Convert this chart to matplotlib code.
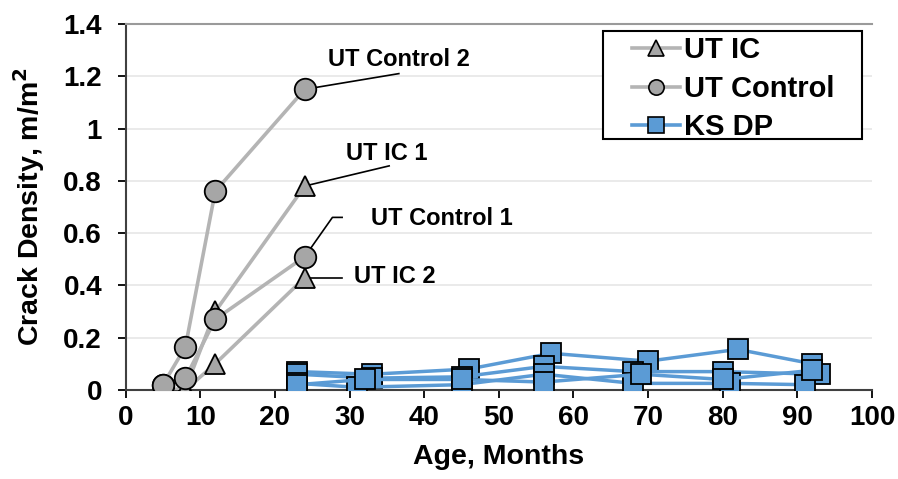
import matplotlib
matplotlib.use("Agg")
import matplotlib.pyplot as plt
from matplotlib.lines import Line2D
from matplotlib.patches import Rectangle

plt.rcParams["font.family"] = ["Liberation Sans", "DejaVu Sans"]
plt.rcParams["font.weight"] = "bold"

# ---------------------------------------------------
# Data
# ---------------------------------------------------
ut_x = [5, 8, 12, 24]
ut_ic_1 = [0.0, 0.005, 0.30, 0.78]
ut_ic_2 = [0.0, 0.0, 0.10, 0.43]
ut_control_1 = [0.02, 0.045, 0.27, 0.51]
ut_control_2 = [0.02, 0.165, 0.76, 1.15]

ks_x_1 = [23, 33, 46, 57, 70, 82, 92]
ks_y_1 = [0.07, 0.06, 0.08, 0.14, 0.11, 0.155, 0.10]
ks_x_2 = [23, 33, 45, 56, 68, 80, 93]
ks_y_2 = [0.06, 0.045, 0.05, 0.09, 0.07, 0.07, 0.06]
ks_x_3 = [23, 31, 45, 56, 68, 81, 91]
ks_y_3 = [0.025, 0.01, 0.02, 0.06, 0.025, 0.025, 0.02]
ks_x_4 = [23, 32, 45, 56, 69, 80, 92]
ks_y_4 = [0.02, 0.04, 0.04, 0.03, 0.06, 0.04, 0.075]

x_ticks = list(range(0, 101, 10))
y_ticks = [0, 0.2, 0.4, 0.6, 0.8, 1.0, 1.2, 1.4]

gray_line = "#b4b4b4"
gray_face = "#a6a6a6"
blue = "#5b9bd5"

# ---------------------------------------------------
# Figure
# ---------------------------------------------------
fig = plt.figure(figsize=(8.98, 4.79), dpi=100)
ax = fig.add_axes([0.140, 0.186, 0.831, 0.764])

for y in y_ticks[1:]:
    ax.axhline(y, color="#e6e6e6", lw=1.2, zorder=0)

for ys in [ut_ic_1, ut_ic_2]:
    ax.plot(ut_x, ys, color=gray_line, lw=2.6, marker="^", ms=14,
            mfc=gray_face, mec="black", mew=1.3, zorder=3)
for ys in [ut_control_1, ut_control_2]:
    ax.plot(ut_x, ys, color=gray_line, lw=2.6, marker="o", ms=15.5,
            mfc=gray_face, mec="black", mew=1.3, zorder=3)

for xs, ys in [(ks_x_1, ks_y_1), (ks_x_2, ks_y_2), (ks_x_3, ks_y_3), (ks_x_4, ks_y_4)]:
    ax.plot(xs, ys, color=blue, lw=2.5, marker="s", ms=14,
            mfc=blue, mec="black", mew=1.3, zorder=4)

# ---------------------------------------------------
# Callouts
# ---------------------------------------------------
lk = dict(color="black", lw=1.2, zorder=2)
fs_call = 17
ax.plot([ut_x[-1], 36.6], [ut_control_2[-1], 1.21], **lk)
ax.text(36.6, 1.265, "UT Control 2", ha="center", va="center", fontsize=fs_call)

ax.plot([ut_x[-1], 35.3], [ut_ic_1[-1], 0.857], **lk)
ax.text(35.0, 0.905, "UT IC 1", ha="center", va="center", fontsize=fs_call)

ax.plot([ut_x[-1], 27.7, 29.0], [ut_control_1[-1], 0.66, 0.66], **lk)
ax.text(42.4, 0.655, "UT Control 1", ha="center", va="center", fontsize=fs_call)

ax.plot([ut_x[-1], 29.0], [ut_ic_2[-1], ut_ic_2[-1]], **lk)
ax.text(36.0, 0.435, "UT IC 2", ha="center", va="center", fontsize=fs_call)

# ---------------------------------------------------
# Axes styling
# ---------------------------------------------------
ax.set_xlim(0, 100)
ax.set_ylim(0, 1.4)
ax.set_xticks(x_ticks)
ax.set_yticks(y_ticks)
ax.set_yticklabels([f"{v:g}" for v in y_ticks])
ax.tick_params(axis="both", direction="out", length=6, width=1.3,
               labelsize=20, colors="black")
ax.tick_params(axis="y", pad=11)
ax.tick_params(axis="x", pad=5)
for lab in ax.get_xticklabels() + ax.get_yticklabels():
    lab.set_fontweight("bold")

ax.spines["right"].set_visible(False)
ax.spines["top"].set_color("#9a9a9a")
ax.spines["top"].set_linewidth(1.5)
for side in ["left", "bottom"]:
    ax.spines[side].set_color("#404040")
    ax.spines[side].set_linewidth(1.5)

ax.set_xlabel("Age, Months", fontsize=20.5, fontweight="bold", labelpad=9)
ax.set_ylabel("Crack Density, m/m$^{\\mathbf{2}}$", fontsize=20.5,
              fontweight="bold", labelpad=12)

# ---------------------------------------------------
# Legend (frame drawn separately to get the wide side padding)
# ---------------------------------------------------
handles = [
    Line2D([], [], color=gray_line, lw=2.6, marker="^", ms=11, mfc=gray_face, mec="black", mew=1.2),
    Line2D([], [], color=gray_line, lw=2.6, marker="o", ms=11, mfc=gray_face, mec="black", mew=1.2),
    Line2D([], [], color=blue, lw=2.6, marker="s", ms=11, mfc=blue, mec="black", mew=1.2),
]
leg = ax.legend(handles, ["UT IC", "UT Control", "KS DP"], loc="upper left",
                bbox_to_anchor=(0.678, 0.966), fontsize=21, frameon=False,
                handlelength=1.65, handletextpad=0.15, labelspacing=0.36,
                borderpad=0, borderaxespad=0)
for t in leg.get_texts():
    t.set_fontweight("bold")

ax.add_patch(Rectangle((0.639, 0.685), 0.348, 0.296, transform=ax.transAxes,
                       fill=True, facecolor="white", edgecolor="black",
                       lw=1.5, zorder=5, clip_on=False))
leg.set_zorder(6)

fig.savefig("out.png", dpi=100)
